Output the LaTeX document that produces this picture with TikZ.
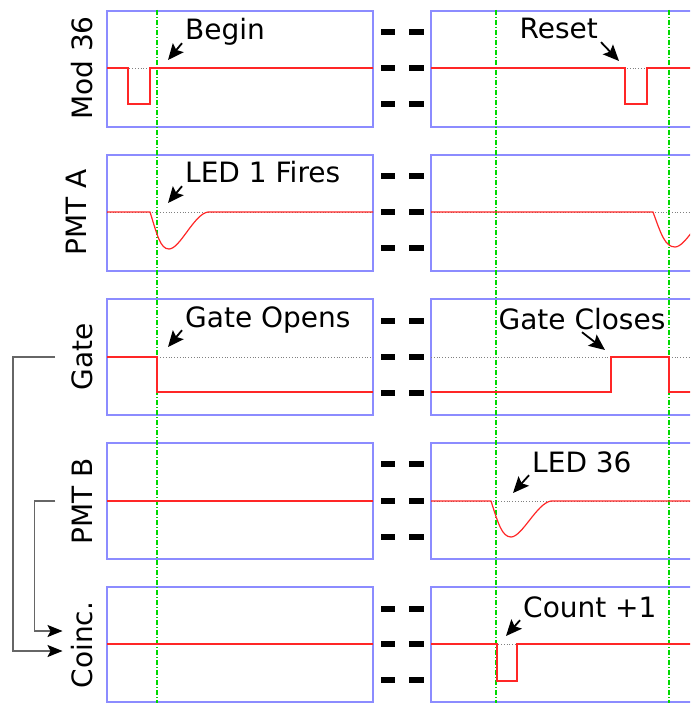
\documentclass[tikz,border=0pt]{standalone}
\usepackage{fontspec}
\setmainfont{DejaVu Sans}
\usetikzlibrary{arrows.meta}

\begin{document}
\begin{tikzpicture}[x=1pt, y=-1pt,
    panel/.style={blue!45, line width=1.1pt},
    sig/.style={red!85, line width=1.2pt},
    ref/.style={gray, dotted, line width=0.8pt},
    timeline/.style={green!85!black, line width=1.1pt, dash pattern=on 5pt off 2pt on 1pt off 2pt},
    gap/.style={black, line width=6pt},
    trace/.style={font=\fontsize{28}{34}\selectfont, rotate=90, anchor=base, inner sep=0pt},
    note/.style={font=\fontsize{28}{34}\selectfont, inner sep=3pt, text depth=0pt},
    pointer/.style={-{Stealth[length=16pt,width=14pt,inset=3pt]}, line width=1.8pt},
    feed/.style={black!60, line width=1.2pt, -{Stealth[length=15pt,width=12pt,inset=3pt,color=black]}}]

    % 画布大小
    \path[use as bounding box] (0,0) rectangle (690,703);
    \clip (0,0) rectangle (690,703);

    % 面板
    \draw[panel] (107,11) rectangle (373,127);
    \draw[panel] (431,11) rectangle (720,127);
    \draw[panel] (107,155) rectangle (373,271);
    \draw[panel] (431,155) rectangle (720,271);
    \draw[panel] (107,299) rectangle (373,415);
    \draw[panel] (431,299) rectangle (720,415);
    \draw[panel] (107,443) rectangle (373,559);
    \draw[panel] (431,443) rectangle (720,559);
    \draw[panel] (107,587) rectangle (373,702);
    \draw[panel] (431,587) rectangle (720,702);

    % 中间的断开符号
    \draw[gap] (381,32) -- (395,32) (409,32) -- (424,32) (381,68) -- (395,68) (409,68) -- (424,68) (381,104) -- (395,104) (409,104) -- (424,104);
    \draw[gap] (381,176) -- (395,176) (409,176) -- (424,176) (381,212) -- (395,212) (409,212) -- (424,212) (381,248) -- (395,248) (409,248) -- (424,248);
    \draw[gap] (381,321) -- (395,321) (409,321) -- (424,321) (381,357) -- (395,357) (409,357) -- (424,357) (381,393) -- (395,393) (409,393) -- (424,393);
    \draw[gap] (381,464) -- (395,464) (409,464) -- (424,464) (381,501) -- (395,501) (409,501) -- (424,501) (381,537) -- (395,537) (409,537) -- (424,537);
    \draw[gap] (381,609) -- (395,609) (409,609) -- (424,609) (381,644) -- (395,644) (409,644) -- (424,644) (381,680) -- (395,680) (409,680) -- (424,680);

    % 时间标记线
    \draw[timeline] (157,10) -- (157,703);
    \draw[timeline] (496,10) -- (496,703);
    \draw[timeline] (669,10) -- (669,703);

    % Mod 36
    \draw[ref] (107,68) -- (373,68);
    \draw[sig] (107,68) -- (128,68) -- (128,104) -- (150,104) -- (150,68) -- (373,68);
    \draw[ref] (431,68) -- (720,68);
    \draw[sig] (431,68) -- (625,68) -- (625,104) -- (647,104) -- (647,68) -- (720,68);

    % PMT A
    \draw[ref] (107,212) -- (373,212);
    \draw[sig] (107,212) -- (150,212) .. controls (157,234) and (160,249) .. (169,249) .. controls (180,249) and (194,214) .. (208,212) -- (373,212);
    \draw[ref] (431,212) -- (720,212);
    \draw[sig] (431,212) -- (653,212) .. controls (661,234) and (665,247) .. (675,247) .. controls (686,247) and (700,214) .. (714,212) -- (720,212);

    % Gate
    \draw[ref] (107,357) -- (373,357);
    \draw[sig] (107,357) -- (157,357) -- (157,392) -- (373,392);
    \draw[ref] (431,357) -- (720,357);
    \draw[sig] (431,392) -- (611,392) -- (611,357) -- (669,357) -- (669,392) -- (720,392);

    % PMT B
    \draw[ref] (107,501) -- (373,501);
    \draw[sig] (107,501) -- (373,501);
    \draw[ref] (431,501) -- (720,501);
    \draw[sig] (431,501) -- (491,501) .. controls (498,523) and (502,537) .. (511,537) .. controls (522,537) and (537,503) .. (551,501) -- (720,501);

    % Coinc.
    \draw[ref] (107,644) -- (373,644);
    \draw[sig] (107,644) -- (373,644);
    \draw[ref] (431,644) -- (720,644);
    \draw[sig] (431,644) -- (497,644) -- (497,681) -- (517,681) -- (517,644) -- (720,644);

    % 通道名
    \node[trace] (mod) at (92,68) {Mod 36};
    \node[trace] (pmta) at (86,212) {PMT A};
    \node[trace] (gate) at (92,357) {Gate};
    \node[trace] (pmtb) at (92,501) {PMT B};
    \node[trace] (coinc) at (92,645) {Coinc.};

    % 符合逻辑的连线
    \draw[feed] ([xshift=-16pt]gate.north) -- ++(-42,0) |- ([xshift=-8pt,yshift=-6pt]coinc.north);
    \draw[feed] ([xshift=-16pt]pmtb.north) -- ++(-21,0) |- ([xshift=-8pt,yshift=14pt]coinc.north);

    % 事件标注
    \node[note, anchor=base west] (begin) at (182,40) {Begin};
    \coordinate (begintip) at (168,60);
    \draw[pointer] (begin.south west) -- (begintip);

    \node[note, anchor=base west] (ledone) at (182,183) {LED 1 Fires};
    \coordinate (ledonetip) at (168,203);
    \draw[pointer] (ledone.south west) -- (ledonetip);

    \node[note, anchor=base west] (opens) at (182,327) {Gate Opens};
    \coordinate (openstip) at (168,347);
    \draw[pointer] (opens.south west) -- (openstip);

    \node[note, anchor=base east] (reset) at (601,39) {Reset};
    \coordinate (resettip) at (619,61);
    \draw[pointer] (reset.south east) -- (resettip);

    \node[note, anchor=base] (closes) at (582,329) {Gate Closes};
    \coordinate (closestip) at (605,350);
    \draw[pointer] (closes.south) -- (closestip);

    \node[note, anchor=base west] (ledsix) at (529,472) {LED 36};
    \coordinate (ledsixtip) at (513,493);
    \draw[pointer] (ledsix.south west) -- (ledsixtip);

    \node[note, anchor=base west] (count) at (520,617) {Count +1};
    \coordinate (counttip) at (506,636);
    \draw[pointer] (count.south west) -- (counttip);
\end{tikzpicture}
\end{document}
